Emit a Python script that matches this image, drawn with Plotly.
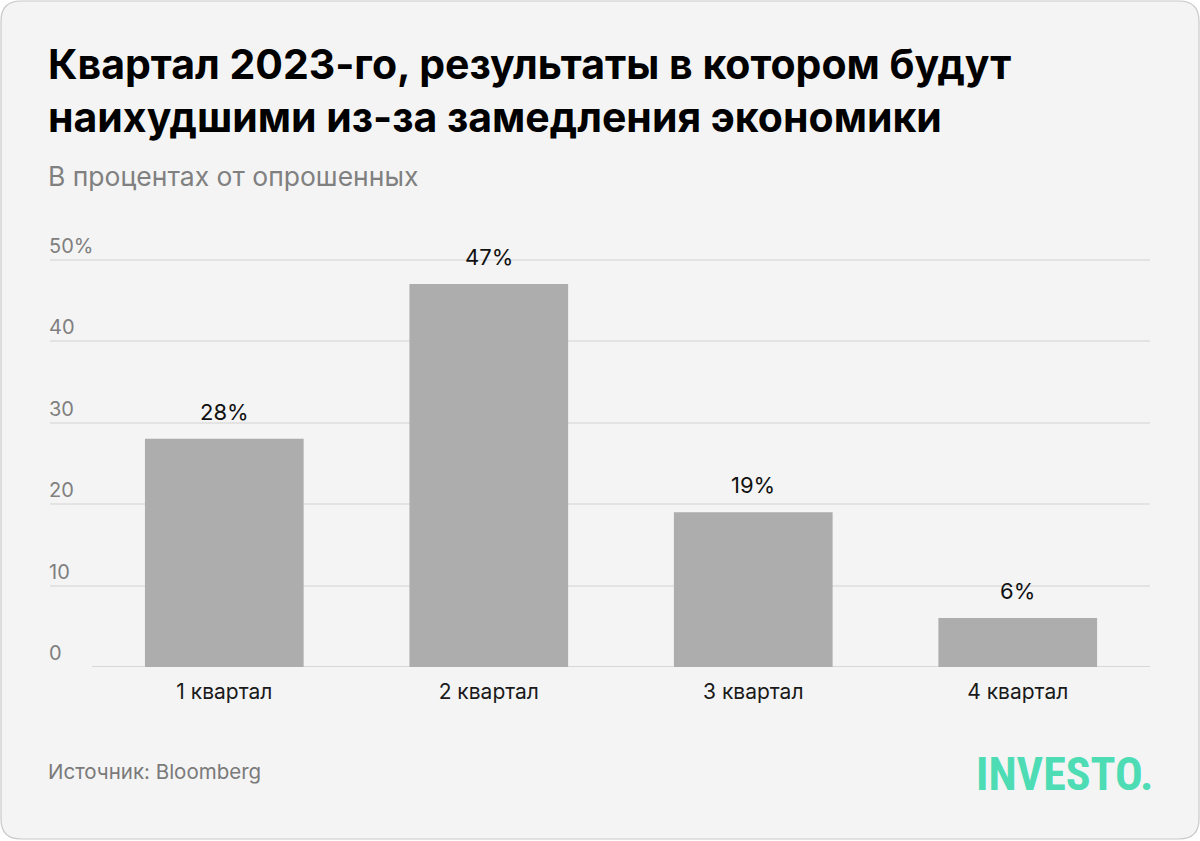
import plotly.graph_objects as go

# ---- data ----
categories = ["1 квартал", "2 квартал", "3 квартал", "4 квартал"]
values = [28, 47, 19, 6]
value_labels = ["28%", "47%", "19%", "6%"]
y_tickvals = [0, 10, 20, 30, 40, 50]
y_ticktext = ["0", "10", "20", "30", "40", "50%"]

title_text = "Квартал 2023-го, результаты в котором будут<br>наихудшими из-за замедления экономики"
subtitle_text = "В процентах от опрошенных"
source_text = "Источник: Bloomberg"
logo_text = "INVESTO."

# ---- layout geometry ----
W, H = 1200, 841
ML, MR, MT, MB = 50, 50, 227, 174
PW = W - ML - MR
PH = H - MT - MB


def px(x):
    return (x - ML) / PW


def py(y):
    return (H - MB - y) / PH


FONT = "Inter, Roboto, 'Noto Sans', sans-serif"

fig = go.Figure()
fig.add_trace(go.Bar(
    x=categories, y=values,
    marker=dict(color="#adadad", line=dict(width=0)),
    width=0.6,
    hoverinfo="skip",
))

annotations = []
for c, v, t in zip(categories, values, value_labels):
    annotations.append(dict(
        x=c, y=v, xref="x", yref="y", text=t, showarrow=False,
        yanchor="bottom", yshift=12,
        font=dict(family=FONT, size=22, color="#111111"),
    ))

annotations += [
    dict(x=px(46), y=py(37), xref="paper", yref="paper", xanchor="left", yanchor="top",
         align="left", text="<b>" + title_text + "</b>", showarrow=False,
         font=dict(family=FONT, size=41, color="#000000")),
    dict(x=px(46), y=py(158), xref="paper", yref="paper", xanchor="left", yanchor="top",
         align="left", text=subtitle_text, showarrow=False,
         font=dict(family=FONT, size=26.5, color="#808080")),
    dict(x=px(46), y=py(757), xref="paper", yref="paper", xanchor="left", yanchor="top",
         align="left", text=source_text, showarrow=False,
         font=dict(family=FONT, size=20.5, color="#7a7a7a")),
    dict(x=px(1155), y=py(745), xref="paper", yref="paper", xanchor="right", yanchor="top",
         align="right", text="<b>" + logo_text + "</b>", showarrow=False,
         font=dict(family="'Roboto Condensed', 'Liberation Sans Narrow', 'DejaVu Sans Condensed', Roboto, sans-serif",
                   size=46, color="#4edcb5")),
]

# rounded card background
r = 20
x0, y0, x1, y1 = 1, 1, 1199, 839
path = (
    f"M {px(x0 + r)},{py(y0)} L {px(x1 - r)},{py(y0)} "
    f"Q {px(x1)},{py(y0)} {px(x1)},{py(y0 + r)} "
    f"L {px(x1)},{py(y1 - r)} Q {px(x1)},{py(y1)} {px(x1 - r)},{py(y1)} "
    f"L {px(x0 + r)},{py(y1)} Q {px(x0)},{py(y1)} {px(x0)},{py(y1 - r)} "
    f"L {px(x0)},{py(y0 + r)} Q {px(x0)},{py(y0)} {px(x0 + r)},{py(y0)} Z"
)
shapes = [
    dict(type="path", path=path, xref="paper", yref="paper",
         fillcolor="#f4f4f4", line=dict(color="#c8c8c8", width=1.2), layer="below"),
    dict(type="line", xref="x", yref="y", x0=-0.5, x1=3.5, y0=0, y1=0,
         line=dict(color="#d8d8d8", width=2), layer="below"),
]

fig.update_layout(
    width=W, height=H,
    margin=dict(l=ML, r=MR, t=MT, b=MB, pad=0),
    paper_bgcolor="#ffffff",
    plot_bgcolor="rgba(0,0,0,0)",
    showlegend=False,
    bargap=0.4,
    annotations=annotations,
    shapes=shapes,
    font=dict(family=FONT),
    xaxis=dict(
        type="category", range=[-0.659, 3.5],
        showgrid=False, zeroline=False, showline=False, ticks="",
        tickfont=dict(family=FONT, size=21, color="#1a1a1a"),
        ticklabelstandoff=10,
        fixedrange=True,
    ),
    yaxis=dict(
        range=[0, 54], tickvals=y_tickvals, ticktext=y_ticktext,
        showgrid=True, gridcolor="#e3e3e3", gridwidth=2,
        zeroline=False, showline=False, ticks="",
        ticklabelposition="inside top",
        ticklabelstandoff=-4,
        tickfont=dict(family=FONT, size=20, color="#7f7f7f"),
        fixedrange=True,
    ),
)

fig.write_html("out.html", config={"displayModeBar": False},
               post_script="document.body.style.margin='0';document.body.style.padding='0';")
